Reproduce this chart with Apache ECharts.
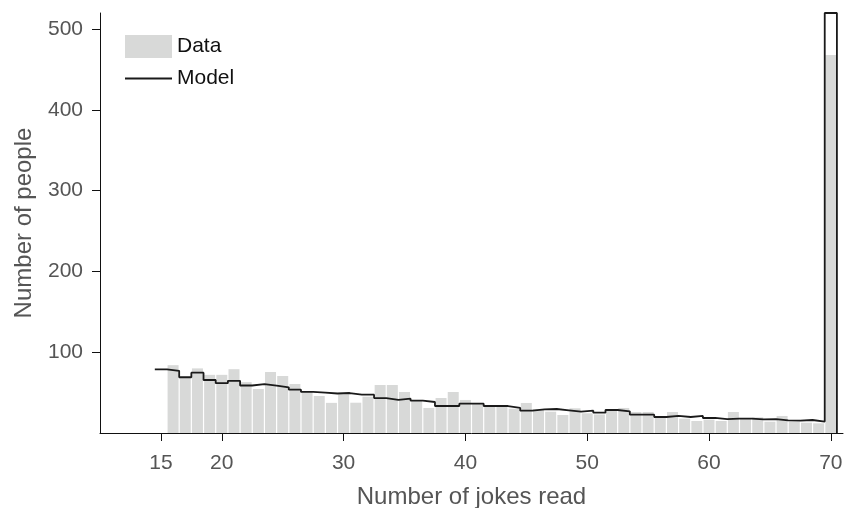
<!DOCTYPE html>
<html>
<head>
<meta charset="utf-8">
<script src="https://cdn.jsdelivr.net/npm/echarts@6/dist/echarts.min.js"></script>
<style>
html,body{margin:0;padding:0;background:#fff;}
#c{width:844px;height:508px;}
</style>
</head>
<body>
<div id="c"></div>
<script>
// Data: number of people by number of jokes read
const dataStart = 16;
const dataValues = [84, 69, 80, 72, 72, 79, 63, 54.5, 75.5, 70.6, 60.7, 51.2, 45.8, 37.3, 47.9,
  37.5, 45, 59.4, 59.4, 50.8, 39.6, 31, 43.3, 50.8, 40.9, 35.9, 32.6, 33, 30.1, 37.2,
  29.3, 26.4, 22.3, 30.6, 24.4, 23, 29.3, 31, 26, 26, 19.4, 26, 17.8, 14.9, 16.5,
  14.9, 26, 17.8, 19.4, 14, 21.1, 14, 12.8, 12, 468];
// Model: expected number of people, jokes 15..70
const modelStart = 15;
const modelValues = [78.8, 77.0, 69.0, 74.7, 65.6, 61.7, 64.6, 58.8, 60.5, 58.6, 56.6, 53.7, 50.8, 49.9, 48.9,
  49.5, 47.5, 47.5, 43.3, 40.9, 42.5, 40.0, 38.4, 33.4, 33.4, 36.3, 36.3, 33.4, 33.4, 31.0,
  27.7, 29.3, 29.7, 28.1, 26.5, 27.7, 25.2, 28.5, 26.8, 22.7, 22.7, 19.8, 21.1, 19.8, 21.1,
  18.6, 17.3, 17.8, 17.8, 16.9, 17.3, 15.7, 15.3, 16.1, 14.2, 520];
const xTicks = [15, 20, 30, 40, 50, 60, 70];
const yTicks = [100, 200, 300, 400, 500];

const barData = dataValues.map((v, i) => [dataStart + i, v]);
const stepData = [];
modelValues.forEach((v, i) => {
  const x = modelStart + i;
  stepData.push([x - 0.5, v]);
  stepData.push([x + 0.5, v]);
});
stepData.push([modelStart + modelValues.length - 0.5, 0]);

const FONT = "'Liberation Sans', Arial, sans-serif";
const BAR_COLOR = '#d8d9d8';
const LINE_COLOR = '#1a1a1a';
const chart = echarts.init(document.getElementById('c'), null, {renderer: 'canvas'});
chart.setOption({
  animation: false,
  backgroundColor: '#ffffff',
  textStyle: {fontFamily: FONT},
  grid: {left: 100, right: 1, top: 13, bottom: 75, containLabel: false, outerBoundsMode: 'none'},
  legend: [
    {
      orient: 'vertical',
      left: 125,
      top: 35,
      itemWidth: 47,
      itemHeight: 23,
      padding: 0,
      textStyle: {fontSize: 21, color: '#111', fontFamily: FONT, lineHeight: 23},
      data: [{name: 'Data', icon: 'rect', itemStyle: {color: BAR_COLOR}}]
    },
    {
      orient: 'vertical',
      left: 125,
      top: 67,
      itemWidth: 47,
      itemHeight: 1.8,
      padding: 0,
      textStyle: {fontSize: 21, color: '#111', fontFamily: FONT, lineHeight: 23},
      data: [{name: 'Model', icon: 'rect', itemStyle: {color: LINE_COLOR}}]
    }
  ],
  xAxis: {
    type: 'value',
    min: 10,
    max: 71,
    name: 'Number of jokes read',
    nameLocation: 'middle',
    nameGap: 52,
    nameTextStyle: {fontSize: 24, color: '#555', fontFamily: FONT},
    axisLine: {show: true, onZero: false, lineStyle: {color: '#111', width: 1}},
    axisTick: {show: true, length: 8, lineStyle: {color: '#111'}, customValues: xTicks},
    axisLabel: {fontSize: 21, color: '#555', margin: 20, fontFamily: FONT, customValues: xTicks},
    splitLine: {show: false}
  },
  yAxis: {
    type: 'value',
    min: 0,
    max: 520,
    name: 'Number of people',
    nameLocation: 'middle',
    nameGap: 64,
    nameTextStyle: {fontSize: 24, color: '#555', fontFamily: FONT},
    axisLine: {show: true, lineStyle: {color: '#111', width: 1}},
    axisTick: {show: true, length: 8, lineStyle: {color: '#111'}, customValues: yTicks},
    axisLabel: {fontSize: 21, color: '#555', margin: 17, fontFamily: FONT, customValues: yTicks},
    splitLine: {show: false}
  },
  series: [
    {
      name: 'Data',
      type: 'bar',
      data: barData,
      barWidth: 11,
      itemStyle: {color: BAR_COLOR},
      z: 1
    },
    {
      name: 'Model',
      type: 'line',
      data: stepData,
      symbol: 'none',
      showSymbol: false,
      clip: false,
      lineStyle: {color: LINE_COLOR, width: 1.8},
      itemStyle: {color: LINE_COLOR},
      z: 3
    }
  ]
});
</script>
</body>
</html>
